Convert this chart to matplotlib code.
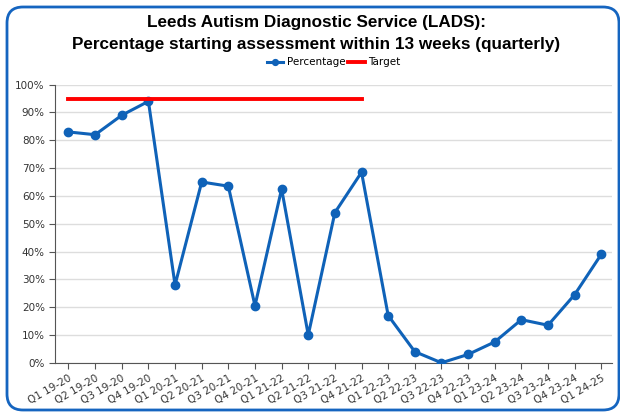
import matplotlib
matplotlib.use("Agg")
import matplotlib.pyplot as plt
from matplotlib.patches import FancyBboxPatch
from matplotlib.ticker import PercentFormatter

quarters = [
    "Q1 19-20", "Q2 19-20", "Q3 19-20", "Q4 19-20",
    "Q1 20-21", "Q2 20-21", "Q3 20-21", "Q4 20-21",
    "Q1 21-22", "Q2 21-22", "Q3 21-22", "Q4 21-22",
    "Q1 22-23", "Q2 22-23", "Q3 22-23", "Q4 22-23",
    "Q1 23-24", "Q2 23-24", "Q3 23-24", "Q4 23-24",
    "Q1 24-25",
]
percentage = [83, 82, 89, 94, 28, 65, 63.5, 20.5, 62.5, 10, 54, 68.5,
              17, 4, 0, 3, 7.5, 15.5, 13.5, 24.5, 39]
target = [95] * 12

blue = "#0f62b8"

fig = plt.figure(figsize=(6.2, 4.17), dpi=100)
ax = fig.add_axes([0.089, 0.13, 0.898, 0.667])

x = list(range(len(quarters)))
ax.plot(x, percentage, color=blue, lw=2.2, marker="o", ms=6, label="Percentage", zorder=3)
ax.plot(x[:len(target)], target, color="#ff0000", lw=2.8, label="Target", zorder=4)

ax.set_ylim(0, 100)
ax.set_xlim(-0.5, len(quarters) - 0.6)
ax.set_yticks(range(0, 101, 10))
ax.yaxis.set_major_formatter(PercentFormatter(decimals=0))
ax.set_xticks(x)
ax.set_xticklabels(quarters, rotation=30, ha="right", rotation_mode="anchor")
ax.tick_params(labelsize=7.5, colors="#333333", length=4, color="#555555")
ax.grid(axis="y", color="#dddddd", lw=1)
ax.set_axisbelow(True)
for s in ["top", "right"]:
    ax.spines[s].set_visible(False)
for s in ["left", "bottom"]:
    ax.spines[s].set_color("#555555")

title_font = dict(ha="center", va="center", fontsize=12.3, fontweight="bold", family="Liberation Sans")
fig.text(0.51, 1 - 22 / 417, "Leeds Autism Diagnostic Service (LADS):", **title_font)
fig.text(0.51, 1 - 45 / 417, "Percentage starting assessment within 13 weeks (quarterly)", **title_font)
ax.legend(loc="center", bbox_to_anchor=(0.5, 1.08), ncol=2, frameon=False,
          fontsize=7.5, handlelength=1.6, columnspacing=0.3, handletextpad=0.3,
          borderaxespad=0, markerscale=0.7)

# rounded blue frame, drawn in inches
border = FancyBboxPatch((0.07, 0.07), 6.12, 4.03, boxstyle="round,pad=0,rounding_size=0.16",
                        transform=fig.dpi_scale_trans, fill=False, edgecolor="#1565c0", lw=2)
fig.patches.append(border)

fig.savefig("out.png", dpi=100)
